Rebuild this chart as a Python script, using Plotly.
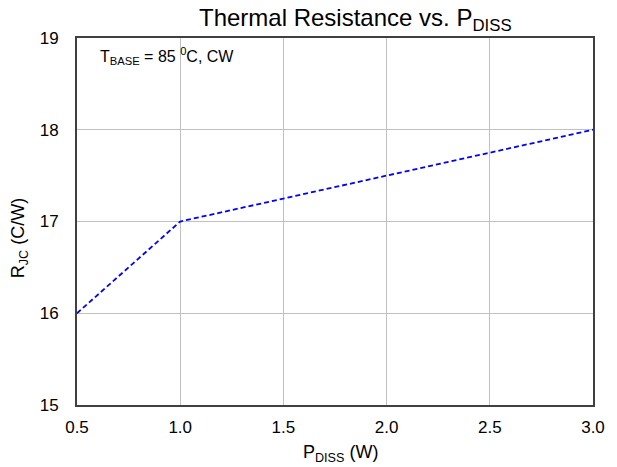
import plotly.graph_objects as go

p_diss = [0.5, 1.0, 3.0]
r_jc = [16.0, 17.0, 18.0]
x_ticks = [0.5, 1.0, 1.5, 2.0, 2.5, 3.0]
x_tick_labels = ["0.5", "1.0", "1.5", "2.0", "2.5", "3.0"]
y_ticks = [15, 16, 17, 18, 19]

FONT = "Arial, Liberation Sans, sans-serif"

fig = go.Figure()
fig.add_trace(go.Scatter(x=p_diss, y=r_jc, mode="lines",
                         line=dict(color="#0000ff", width=1.8, dash="5px,3px"),
                         showlegend=False))

axis_common = dict(showgrid=True, gridcolor="#c0c0c0", gridwidth=1,
                   showline=True, linecolor="#404040", linewidth=2, mirror=True,
                   ticks="", zeroline=False,
                   tickfont=dict(family=FONT, size=17, color="#000000"))

fig.update_layout(
    width=617, height=467,
    margin=dict(l=77, r=13, t=38, b=62),
    paper_bgcolor="white", plot_bgcolor="white",
    font=dict(family=FONT, color="#000000"),
    xaxis=dict(range=[0.5, 3.0], tickvals=x_ticks, ticktext=x_tick_labels,
               ticklabelstandoff=6, **axis_common),
    yaxis=dict(range=[15, 19], tickvals=y_ticks, ticklabelstandoff=13, **axis_common),
    annotations=[
        dict(text="Thermal Resistance vs. P<sub>DISS</sub>", xref="paper", yref="paper",
             x=0.539, y=1, xanchor="center", yanchor="bottom", yshift=1, showarrow=False,
             font=dict(size=24, family=FONT, color="#000000")),
        dict(text="P<sub>DISS</sub> (W)", xref="paper", yref="paper",
             x=0.511, y=0, xanchor="center", yanchor="middle", yshift=-48, showarrow=False,
             font=dict(size=18, family=FONT, color="#000000")),
        dict(text="R<sub>JC</sub> (C/W)", xref="paper", yref="paper", textangle=-90,
             x=-0.112, y=0.455, xanchor="center", yanchor="middle", showarrow=False,
             font=dict(size=18, family=FONT, color="#000000")),
        dict(text="T<sub>BASE</sub> = 85 <sup>0</sup>C, CW", xref="paper", yref="paper",
             x=0.04, y=0.95, xanchor="left", yanchor="middle", showarrow=False,
             font=dict(size=16, family=FONT, color="#000000")),
    ],
)

fig.write_html("out.html")
